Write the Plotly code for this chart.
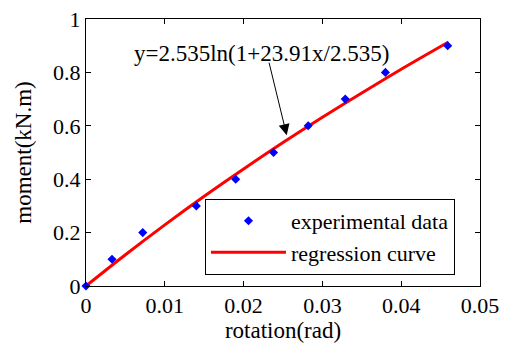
import plotly.graph_objects as go

rotation = [0.0, 0.0033, 0.0072, 0.0140, 0.0190, 0.0238, 0.0282, 0.0329, 0.0380, 0.0459]
moment = [0.0, 0.1, 0.2, 0.3, 0.4, 0.5, 0.6, 0.7, 0.8, 0.9]

# regression curve
curve_x = [0.0, 0.005, 0.010, 0.015, 0.020, 0.025, 0.030, 0.035, 0.040, 0.046]
curve_y = [0.0, 0.117, 0.229, 0.336, 0.438, 0.537, 0.632, 0.723, 0.812, 0.914]

x_ticks = [0, 0.01, 0.02, 0.03, 0.04, 0.05]
y_ticks = [0, 0.2, 0.4, 0.6, 0.8, 1]

FONT = "Liberation Serif"

fig = go.Figure()
fig.add_trace(go.Scatter(
    x=curve_x, y=curve_y, mode="lines", name="regression curve",
    line=dict(color="#ff0000", width=3, shape="spline"), legendrank=2,
))
fig.add_trace(go.Scatter(
    x=rotation, y=moment, mode="markers", name="experimental data",
    marker=dict(symbol="diamond", size=7, color="#0000ff", line=dict(width=0)),
    cliponaxis=False, legendrank=1,
))

axis_common = dict(
    showline=True, linecolor="black", linewidth=1, mirror="ticks",
    ticks="inside", ticklen=5, tickcolor="black", tickwidth=1,
    showgrid=False, zeroline=False, automargin=False,
    tickfont=dict(family=FONT, size=22, color="black"),
)

fig.update_layout(
    width=507, height=350,
    margin=dict(l=86, r=27, t=19, b=64),
    paper_bgcolor="white", plot_bgcolor="white",
    font=dict(family=FONT, size=22, color="black"),
    xaxis=dict(range=[0, 0.05], tickvals=x_ticks, ticktext=[f"{v:g}" for v in x_ticks],
               title=dict(text="rotation(rad)", font=dict(family=FONT, size=23), standoff=2),
               **axis_common),
    yaxis=dict(range=[0, 1], tickvals=y_ticks, ticktext=[f"{v:g}" for v in y_ticks],
               title=dict(text="moment(kN.m)", font=dict(family=FONT, size=23)),
               **axis_common),
    legend=dict(x=0.302, y=0.326, xanchor="left", yanchor="top",
                bgcolor="white", bordercolor="black", borderwidth=1,
                font=dict(family=FONT, size=22), itemwidth=75,
                tracegroupgap=0, traceorder="normal"),
    showlegend=True,
)

# arrow pointing to the curve
fig.add_annotation(x=0.02547, y=0.565, xref="x", yref="y", ax=-18, ay=-74,
                   text="", showarrow=True, arrowhead=2, arrowsize=2.2,
                   arrowwidth=1, arrowcolor="black")
# formula text
fig.add_annotation(x=0.02227, y=0.872, xref="x", yref="y",
                   text="y=2.535ln(1+23.91x/2.535)", showarrow=False,
                   font=dict(family=FONT, size=23, color="black"))

fig.write_html("out.html")
